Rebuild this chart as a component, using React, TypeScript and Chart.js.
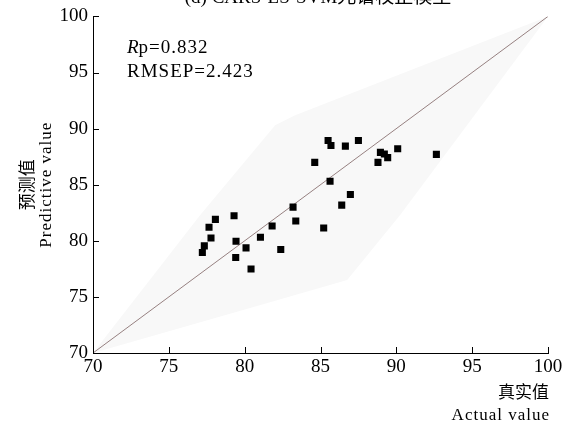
import { useEffect, useRef } from 'react';
import { Chart, registerables } from 'chart.js';

Chart.register(...registerables);

// Measured (actual) vs predicted values
const actualValues = [77.21, 77.34, 77.65, 77.78, 78.07, 79.30, 79.43, 79.41, 80.09, 80.42, 81.04, 81.81, 82.38, 83.19, 83.37, 84.62, 85.21, 85.50, 85.69, 85.63, 86.40, 86.64, 86.97, 87.50, 88.79, 88.95, 89.21, 89.43, 90.09, 92.64];
const predictedValues = [78.95, 79.55, 81.20, 80.25, 81.91, 82.23, 79.96, 78.51, 79.37, 77.48, 80.31, 81.32, 79.22, 83.00, 81.76, 86.99, 81.14, 88.94, 88.50, 85.31, 83.18, 88.44, 84.13, 88.94, 86.99, 87.88, 87.73, 87.41, 88.20, 87.70];

// 1:1 reference line
const refLineX = [70, 100];
const refLineY = [70, 100];

// Light grey prediction band outline
const bandX = [70, 77.07, 82.01, 83.33, 100, 90.25, 86.76, 80.36];
const bandY = [70, 82.29, 90.30, 91.19, 100, 82.29, 76.5, 74.01];

const axisMin = 70;
const axisMax = 100;
const tickStep = 5;

const titleText = '(d) CARS-LS-SVM光谱校正模型';
const rpLabel = 'p=0.832';
const rmsepLabel = 'RMSEP=2.423';
const yTitleCn = '预测值';
const yTitleEn = 'Predictive value';
const xTitleCn = '真实值';
const xTitleEn = 'Actual value';

const SERIF = '"Liberation Serif", "Noto Sans CJK SC", serif';

export default function App() {
  const ref = useRef<HTMLCanvasElement | null>(null);

  useEffect(() => {
    const canvas = ref.current;
    if (!canvas) return;

    const decorPlugin = {
      id: 'decor',
      afterDraw(chart: any) {
        const ctx = chart.ctx;
        const xs = chart.scales.x;
        const ys = chart.scales.y;
        const area = chart.chartArea;
        ctx.save();
        // inward ticks
        ctx.strokeStyle = '#000';
        ctx.lineWidth = 1;
        ctx.beginPath();
        xs.ticks.forEach((t: any) => {
          const px = Math.round(xs.getPixelForValue(t.value)) + 0.5;
          ctx.moveTo(px, area.bottom);
          ctx.lineTo(px, area.bottom - 6);
        });
        ys.ticks.forEach((t: any) => {
          const py = Math.round(ys.getPixelForValue(t.value)) + 0.5;
          ctx.moveTo(area.left, py);
          ctx.lineTo(area.left + 6, py);
        });
        ctx.stroke();

        ctx.fillStyle = '#000';
        ctx.textBaseline = 'alphabetic';
        // annotation
        ctx.font = 'italic 19px "Liberation Serif", serif';
        ctx.textAlign = 'left';
        ctx.fillText('R', 127, 53);
        const rw = ctx.measureText('R').width;
        ctx.font = '19px "Liberation Serif", serif';
        (ctx as any).letterSpacing = '1px';
        ctx.fillText(rpLabel, 127 + rw, 53);
        ctx.fillText(rmsepLabel, 127, 77);
        (ctx as any).letterSpacing = '0px';

        // title (cut off at top)
        ctx.font = '19px ' + SERIF;
        ctx.textAlign = 'center';
        ctx.fillText(titleText, 318, 3);

        // x axis titles
        ctx.textAlign = 'right';
        ctx.font = '17px "Noto Sans CJK SC", sans-serif';
        ctx.fillText(xTitleCn, xs.getPixelForValue(axisMax) + 1, 398);
        ctx.font = '17px "Liberation Serif", serif';
        (ctx as any).letterSpacing = '1px';
        ctx.fillText(xTitleEn, xs.getPixelForValue(axisMax) + 2, 420);
        (ctx as any).letterSpacing = '0px';

        // y axis titles
        const cy = (area.top + area.bottom) / 2;
        ctx.save();
        ctx.translate(27, cy);
        ctx.rotate(-Math.PI / 2);
        ctx.textAlign = 'center';
        ctx.textBaseline = 'middle';
        ctx.font = '17px "Noto Sans CJK SC", sans-serif';
        ctx.fillText(yTitleCn, 0, 0);
        ctx.restore();
        ctx.save();
        ctx.translate(47, cy);
        ctx.rotate(-Math.PI / 2);
        ctx.textAlign = 'center';
        ctx.textBaseline = 'middle';
        ctx.font = '17px "Liberation Serif", serif';
        (ctx as any).letterSpacing = '1px';
        ctx.fillText(yTitleEn, 0, 0);
        ctx.restore();
        ctx.restore();
      },
    };

    const tickFont = { family: '"Liberation Serif", serif', size: 19 };

    const chart = new Chart(canvas, {
      type: 'scatter',
      data: {
        datasets: [
          {
            label: 'samples',
            data: actualValues.map((x, i) => ({ x, y: predictedValues[i] })),
            pointStyle: 'rect',
            pointRadius: 5,
            pointBackgroundColor: '#000',
            pointBorderWidth: 0,
            showLine: false,
            order: 0,
          },
          {
            label: 'reference',
            data: refLineX.map((x, i) => ({ x, y: refLineY[i] })),
            showLine: true,
            borderColor: 'rgb(150,128,128)',
            borderWidth: 1,
            pointRadius: 0,
            fill: false,
            order: 1,
          },
          {
            label: 'band',
            data: bandX.map((x, i) => ({ x, y: bandY[i] })),
            showLine: true,
            borderWidth: 0,
            borderColor: 'rgba(0,0,0,0)',
            backgroundColor: 'rgb(248,248,248)',
            pointRadius: 0,
            fill: 'shape',
            order: 2,
          } as any,
        ],
      },
      options: {
        animation: false,
        responsive: false,
        devicePixelRatio: 1,
        layout: { padding: { top: 15, right: 26, left: 0, bottom: 0 } },
        plugins: {
          legend: { display: false },
          tooltip: { enabled: false },
          title: { display: false },
        },
        scales: {
          x: {
            type: 'linear',
            min: axisMin,
            max: axisMax,
            ticks: { stepSize: tickStep, color: '#000', font: tickFont, padding: 3, maxRotation: 0 },
            grid: { display: true, drawOnChartArea: false, drawTicks: false },
            border: { display: true, color: '#000', width: 1 },
            afterFit: (s: any) => { s.height = 70; },
          },
          y: {
            type: 'linear',
            min: axisMin,
            max: axisMax,
            ticks: { stepSize: tickStep, color: '#000', font: tickFont, padding: 5 },
            grid: { display: true, drawOnChartArea: false, drawTicks: false },
            border: { display: true, color: '#000', width: 1 },
            afterFit: (s: any) => { s.width = 93; },
          },
        },
      } as any,
      plugins: [decorPlugin],
    });

    return () => chart.destroy();
  }, []);

  return (
    <div style={{ position: 'fixed', left: 0, top: 0, width: 574, height: 423, background: '#fff' }}>
      <canvas ref={ref} width={574} height={423} style={{ display: 'block' }} />
    </div>
  );
}
